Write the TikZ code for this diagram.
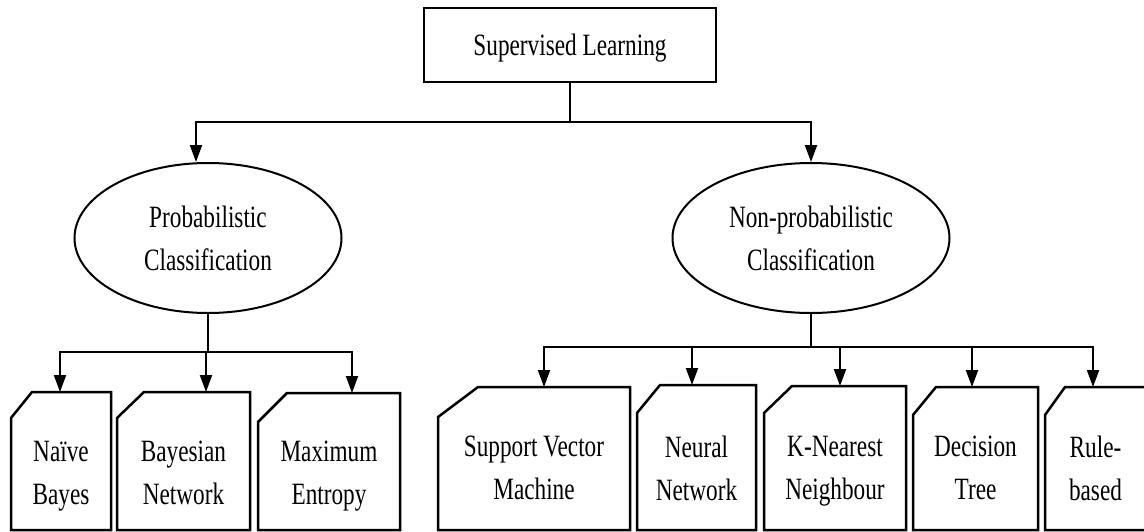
\documentclass[tikz,border=0pt]{standalone}
\usepackage{fontspec}
\setmainfont{Liberation Serif}[FakeStretch=0.75]
\usetikzlibrary{arrows.meta,shapes.geometric}
\tikzset{
  boxline/.style={line width=2.5pt, line join=miter},
  conn/.style={line width=2pt},
  bus/.style={line width=2pt, line cap=rect},
  arr/.style={line width=2pt, -{Triangle[width=12pt,length=17pt]}},
  txt/.style={font=\fontsize{31}{43}\selectfont, align=center, inner sep=0pt, text depth=0pt},
}
\newcommand{\chambox}[8]{%
  \draw[boxline] (#2,530) -- (#2,#3+#6) -- (#2+#5,#3) -- (#4,#3) -- (#4,530) -- cycle;
  \coordinate (#1-top) at ({(#2+#4)/2},#3);
  \node[txt] (#1) at ({(#2+#4)/2},#7) {#8};
}
\begin{document}
\begin{tikzpicture}[x=1pt,y=-1pt]
\useasboundingbox (0,0) rectangle (1144,531);
\clip (0,0) rectangle (1144,531);
% top
\node[draw, txt, line width=2.5pt, minimum width=292pt, minimum height=74pt] (sl) at (570,45) {Supervised Learning};
% ellipses
\node[draw, ellipse, txt, line width=2pt, minimum width=267pt, minimum height=150pt] (pc) at (208,238) {Probabilistic\\Classification};
\node[draw, ellipse, txt, line width=2pt, minimum width=277pt, minimum height=150pt] (npc) at (811,238) {Non-probabilistic\\Classification};
% leaves
\chambox{nb}{11}{392}{111}{21}{26}{473}{Naïve\\Bayes}
\chambox{bn}{117}{392}{250}{27}{26}{473}{Bayesian\\Network}
\chambox{me}{258}{393}{400}{29}{29}{473}{Maximum\\Entropy}
\chambox{svm}{438}{387}{630}{40}{30}{468}{Support Vector\\Machine}
\chambox{nn}{637}{385}{756}{23}{28}{468}{Neural\\Network}
\chambox{knn}{764}{386}{906}{28}{27}{468}{K-Nearest\\Neighbour}
\chambox{dt}{913}{387}{1038}{23}{28}{468}{Decision\\Tree}
\chambox{rb}{1045}{387}{1146}{20}{28}{468}{Rule-\\based}
% top connectors
\coordinate (tl) at (196,122);
\coordinate (tr) at (811,122);
\draw[conn] (sl.south) -- (sl.south |- tl);
\draw[bus] (tl) -- (tr);
\draw[arr] (tl) -- (tl |- pc.north);
\draw[arr] (tr) -- (npc.north);
% left bus
\coordinate (lb1) at (60,352);
\coordinate (lb2) at (206,352);
\coordinate (lb3) at (352,352);
\draw[conn] (pc.south) -- (pc.south |- lb1);
\draw[bus] (lb1) -- (lb3);
\draw[arr] (lb1) -- (lb1 |- nb-top);
\draw[arr] (lb2) -- (lb2 |- bn-top);
\draw[arr] (lb3) -- (lb3 |- me-top);
% right bus
\coordinate (rb1) at (544,347);
\coordinate (rb2) at (692,347);
\coordinate (rb3) at (840,347);
\coordinate (rb4) at (972,347);
\coordinate (rb5) at (1093,347);
\draw[conn] (npc.south) -- (npc.south |- rb1);
\draw[bus] (rb1) -- (rb5);
\draw[arr] (rb1) -- (rb1 |- svm-top);
\draw[arr] (rb2) -- (rb2 |- nn-top);
\draw[arr] (rb3) -- (rb3 |- knn-top);
\draw[arr] (rb4) -- (rb4 |- dt-top);
\draw[arr] (rb5) -- (rb5 |- rb-top);
\end{tikzpicture}
\end{document}
